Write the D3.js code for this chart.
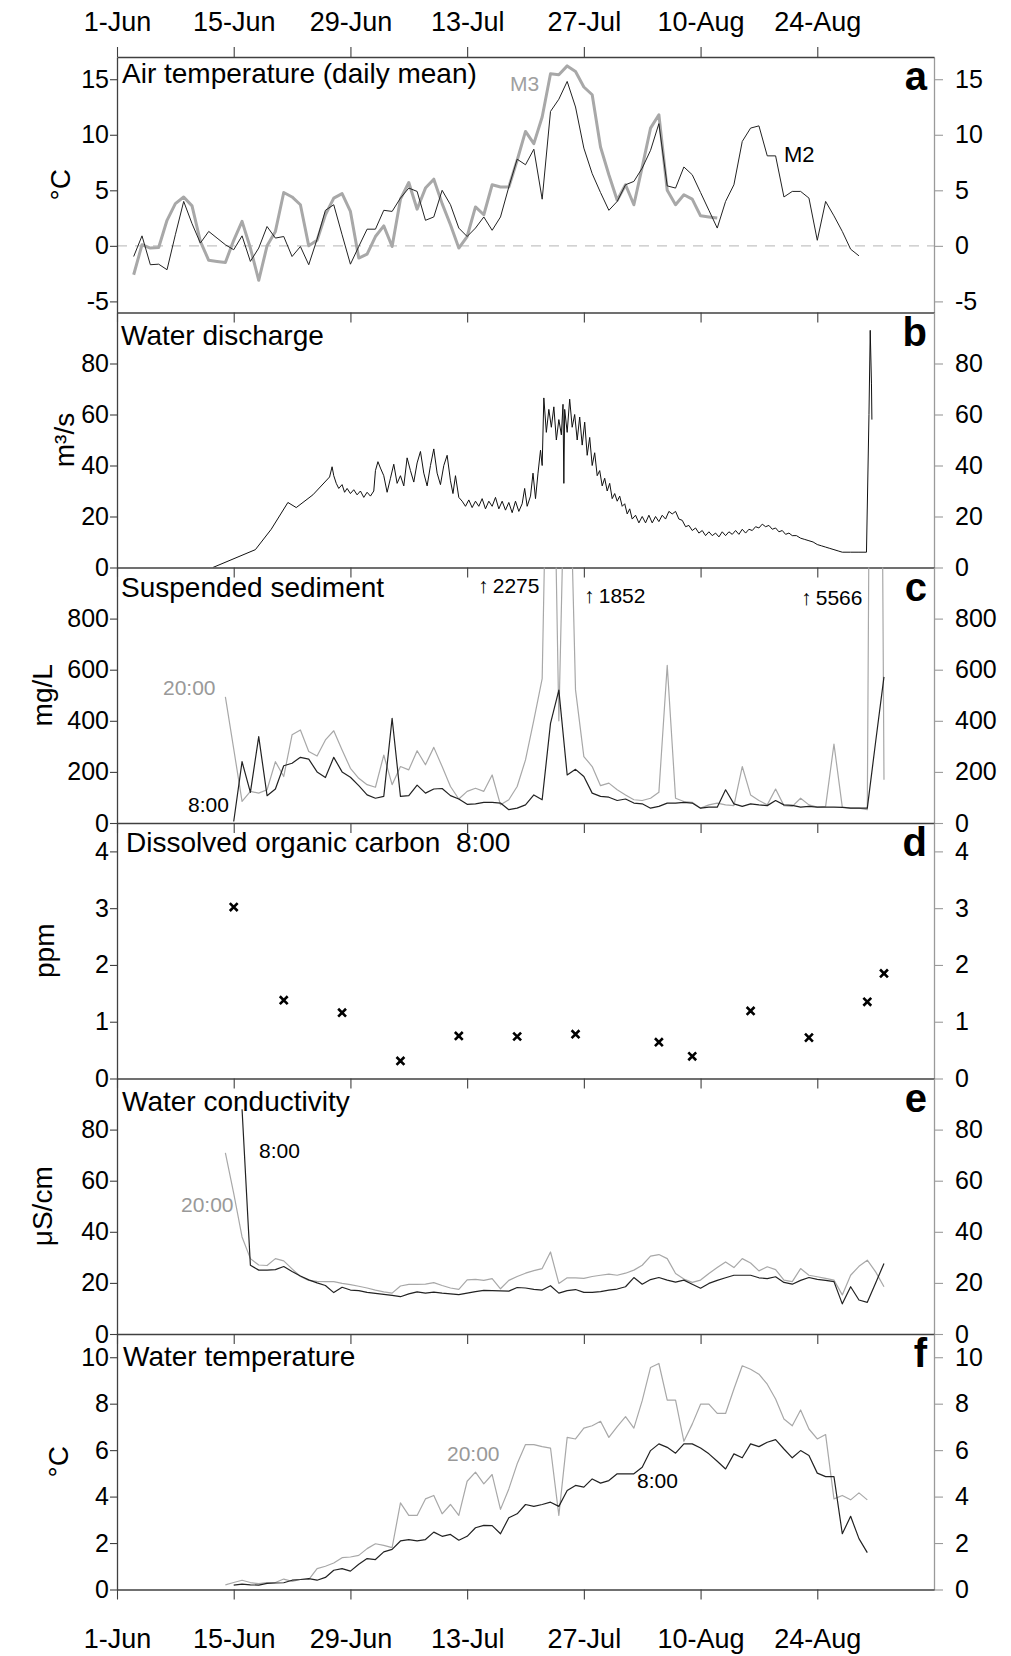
<!DOCTYPE html>
<html>
<head>
<meta charset="utf-8">
<title>Air temperature, discharge, sediment, DOC, conductivity, water temperature</title>
<script src="https://d3js.org/d3.v7.min.js"></script>
<style>
  body { margin: 0; background: #fff; }
  svg { display: block; font-family: "Liberation Sans", Arial, sans-serif; }
</style>
</head>
<body>
<svg id="chart"></svg>
<script>
// ---- data (day 0 = 1 June) ----
var dateTicks = [0, 14, 28, 42, 56, 70, 84];

var airM2Start = 2;
var airM2 = [-0.96, 0.9, -1.7, -1.65, -2.15, 1.0, 4.0, 2.0, 0.25, 1.3, 0.7, 0.1, -0.35, 0.9, -1.4, -0.2,
  1.74, 0.7, 0.84, -0.96, -0.06, -1.7, 0.6, 3.2, 3.7, 1.0, -1.65, -0.06, 1.5, 1.5, 3.2, 3.1, 4.3, 5.2,
  4.9, 2.3, 2.6, 5.0, 3.7, 1.6, 0.84, 1.6, 2.6, 1.4, 2.6, 5.3, 7.8, 7.3, 8.7, 4.2, 12.1, 13.2, 14.8,
  12.5, 8.8, 6.5, 4.8, 3.2, 4.0, 5.5, 5.8, 7.0, 8.6, 11.0, 5.4, 5.2, 7.1, 6.4, 4.8, 3.2, 1.6, 4.0, 5.5,
  9.4, 10.6, 10.8, 8.1, 8.1, 4.4, 4.9, 4.9, 4.3, 0.5, 4.0, 2.7, 1.3, -0.3, -0.9];
var airM3Start = 2;
var airM3 = [-2.6, 0.1, -0.2, -0.15, 2.3, 3.8, 4.4, 3.6, 0.4, -1.3, -1.4, -1.5, 0.5, 2.2, -0.2, -3.1,
  0, 1.3, 4.8, 4.4, 3.7, 0, 0.5, 2.8, 4.3, 4.7, 3.1, -1.1, -0.75, 0.84, 1.8, -0.06, 4.2, 5.7, 3.3, 5.2,
  6.0, 3.8, 1.9, -0.2, 0.84, 3.5, 2.8, 5.5, 5.3, 5.3, 7.7, 10.3, 9.2, 11.6, 15.5, 15.4, 16.2, 15.7,
  14.3, 13.6, 8.9, 6.4, 4.1, 5.5, 3.7, 7.1, 10.6, 11.8, 5.0, 3.7, 4.6, 4.2, 2.7, 2.6, 2.5];

// [day, m3/s]
var discharge = [[11.5,0],[16.6,7],[18.5,15],[20.5,25.5],[21.5,23.5],[23.5,28.5],[25.5,35.5],[25.8,39.5],
  [26.0,36],[26.3,33],[26.6,31],[27.0,32.5],[27.3,29.5],[27.6,31],[28.0,29],[28.4,30.5],[28.8,28.5],
  [29.2,30],[29.6,27.5],[30.0,29.5],[30.4,28],[30.8,30],[31.0,38],[31.3,41.5],[31.6,39],[32.0,36],
  [32.4,29.5],[32.8,35],[33.2,40.5],[33.6,33],[34.0,36],[34.4,32],[34.8,43],[35.2,38],[35.6,33.5],
  [36.0,41],[36.4,45.5],[36.8,37],[37.2,32],[37.6,40],[38.0,46.5],[38.4,37],[38.8,32.5],[39.2,40],
  [39.6,44],[40.0,34],[40.3,29],[40.6,36],[41.0,27.5],[41.4,26],[41.8,24],[42.2,26.5],[42.6,23.5],
  [43.0,26],[43.4,24],[43.8,27],[44.2,23],[44.6,26],[45.0,24],[45.4,27.5],[45.8,23],[46.2,26],
  [46.6,22.5],[47.0,25.5],[47.4,21.5],[47.8,26],[48.2,22],[48.6,25],[48.9,31],[49.2,24],[49.6,28],
  [49.9,37],[50.2,27],[50.5,37],[50.8,46],[51.0,40],[51.2,66.5],[51.5,53],[51.8,62],[52.1,55],
  [52.4,63],[52.7,50],[53.0,58],[53.3,52],[53.5,64],[53.6,33],[53.7,62],[54.0,53],[54.3,66],
  [54.6,55],[54.9,60],[55.2,50],[55.5,59],[55.8,48],[56.1,57],[56.4,44],[56.7,51],[57.0,40],
  [57.3,45],[57.6,36],[57.9,38],[58.2,32],[58.5,35],[58.8,30],[59.1,33],[59.4,27],[59.7,29],
  [60.0,26],[60.3,28],[60.6,24],[60.9,25],[61.2,21],[61.5,23],[61.8,19],[62.2,20.5],[62.6,17.5],
  [63.0,20],[63.4,17.5],[63.8,20.5],[64.2,17.5],[64.6,20],[65.0,18],[65.4,20.5],[65.8,19],[66.2,22],
  [66.6,21],[67.0,22],[67.4,19],[67.8,18.5],[68.2,16],[68.6,16.5],[69.0,14.5],[69.4,15.5],[69.8,13.5],
  [70.2,14.5],[70.6,12.5],[71.0,14],[71.4,12.5],[71.8,13.5],[72.2,12],[72.6,14],[73.0,12.5],[73.4,14],
  [73.8,13],[74.2,14.5],[74.6,13],[75.0,15],[75.4,13.5],[75.8,15],[76.2,14.5],[76.6,16],[77.0,15.5],
  [77.4,17],[77.8,16],[78.2,16.5],[78.6,15],[79.0,15.5],[79.4,14],[79.8,14.5],[80.2,13],[80.6,13.5],
  [81.0,12.5],[81.5,12.5],[82.0,11.5],[82.5,11],[83.0,10.5],[83.5,10],[84.0,9],[84.5,8.5],[85.0,8],
  [85.5,7.5],[86.0,7],[86.5,6.5],[87.0,6],[88.0,6],[89.0,6],[89.9,6],[90.2,60],[90.35,93],[90.5,72],
  [90.55,58]];

var ssc20Start = 13;
var ssc20 = [494, 290, 85, 124, 117, 130, 240, 182, 345, 364, 280, 262, 325, 361, 286, 214, 175, 150,
  140, 266, 150, 221, 208, 283, 228, 296, 221, 143, 94, 124, 136, 124, 188, 71, 91, 143, 247, 403, 565,
  2275, 400, 1852, 521, 260, 221, 146, 156, 130, 110, 91, 88, 97, 120, 617, 97, 84, 81, 58, 71, 78, 71,
  68, 221, 110, 88, 71, 133, 68, 65, 97, 71, 62, 65, 309, 62, 58, 58, 52, 5566, 169];
var ssc8Start = 14;
var ssc8 = [6, 240, 120, 338, 107, 133, 224, 234, 257, 250, 200, 178, 257, 200, 179, 146, 110, 97, 104,
  410, 104, 107, 148, 117, 133, 135, 107, 94, 73, 75, 81, 81, 78, 52, 58, 71, 110, 91, 390, 520, 188,
  210, 182, 117, 104, 101, 88, 94, 78, 75, 58, 65, 78, 78, 81, 78, 58, 62, 62, 130, 75, 65, 75, 71, 68,
  88, 71, 69, 62, 65, 62, 62, 62, 61, 58, 58, 58, 318, 572];
var sscPeaks = ["\u2191\u20092275", "\u2191\u20091852", "\u2191\u20095566"];

var docDays = [14, 20, 27, 34, 41, 48, 55, 65, 69, 76, 83, 90, 92];
var docPpm = [3.02, 1.38, 1.16, 0.31, 0.75, 0.74, 0.78, 0.64, 0.39, 1.19, 0.72, 1.35, 1.85];

var cond20Start = 13;
var cond20 = [70.9, 55, 38, 29.5, 27, 26.8, 29.5, 28.6, 25.5, 22.5, 21, 20.6, 20.5, 20.5, 19.8, 19.3,
  18.7, 18, 17.2, 16.5, 16, 18.8, 19.4, 19.4, 19.5, 20.1, 19, 18, 17.5, 21.2, 21.4, 21, 21.7, 17.7, 21,
  22.5, 23.8, 24.8, 25.6, 32.1, 19.8, 22, 22, 21.8, 22.5, 23, 23.4, 23, 23.8, 25, 26.9, 30.5, 31.1, 29.5,
  23.7, 21.5, 20.2, 21.1, 23.7, 26, 28.2, 26, 29.5, 27.8, 24.7, 26.3, 25.2, 21.1, 20.5, 25.6, 23, 22.4,
  21.8, 21.1, 15.3, 23, 26.5, 28.9, 24.3, 18.5];
var cond8Start = 15;
var cond8 = [88, 26.9, 25, 25, 25.2, 26.4, 24.5, 22.7, 21.2, 20, 19, 16.2, 18.3, 17.2, 17, 16.3, 15.9,
  15.5, 15.1, 14.6, 15.7, 16.5, 16, 16.4, 16, 15.7, 15.4, 16, 16.6, 17.1, 17, 16.9, 16.8, 18.2, 18, 17.5,
  17.2, 18.9, 16, 17, 17.4, 16.3, 16.3, 16.6, 17.2, 17.6, 18.5, 22.1, 19.5, 21.3, 22.1, 21.1, 20.3, 21.1,
  19.5, 17.9, 19.8, 21, 22, 23, 23, 23, 22, 21.7, 22.4, 20.2, 19.5, 21, 22.1, 21.4, 21, 20.5, 11.8, 18.5,
  13.3, 12.4, 20, 27.6];

var wt20Start = 13;
var wt20 = [0.2, 0.3, 0.4, 0.3, 0.25, 0.3, 0.3, 0.45, 0.35, 0.43, 0.43, 0.9, 1.0, 1.14, 1.37, 1.4, 1.47,
  1.76, 1.97, 1.9, 1.8, 3.73, 3.19, 3.19, 3.9, 4.05, 3.26, 3.66, 3.19, 4.66, 5.05, 4.55, 4.95, 3.45, 4.33,
  5.41, 6.24, 6.24, 6.15, 6.09, 3.19, 6.55, 6.48, 6.95, 7.05, 7.24, 6.55, 7.01, 7.44, 6.95, 8.13, 9.56,
  9.73, 8.15, 8.15, 6.38, 7.12, 7.98, 7.98, 7.58, 7.58, 8.63, 9.63, 9.48, 9.27, 8.84, 8.2, 7.34, 7.05,
  7.73, 6.91, 6.48, 6.67, 3.9, 4.05, 3.86, 4.16, 3.86];
var wt8Start = 14;
var wt8 = [0.19, 0.23, 0.2, 0.19, 0.26, 0.28, 0.29, 0.4, 0.43, 0.47, 0.4, 0.52, 0.83, 0.9, 0.79, 1.09,
  1.33, 1.29, 1.62, 1.73, 2.09, 2.15, 2.09, 2.15, 2.47, 2.29, 2.37, 2.12, 2.29, 2.66, 2.76, 2.75, 2.4,
  3.09, 3.26, 3.66, 3.58, 3.66, 3.76, 3.58, 4.26, 4.48, 4.41, 4.76, 4.58, 4.69, 4.98, 4.98, 4.98, 5.26,
  5.98, 6.27, 6.12, 5.87, 6.27, 6.27, 6.09, 5.84, 5.52, 5.19, 5.84, 5.67, 6.27, 6.15, 6.34, 6.45, 6.05,
  5.67, 5.98, 5.77, 5.01, 4.86, 4.86, 2.4, 3.15, 2.19, 1.59];

// ---- layout ----
var width = 1011, height = 1656;
var left = 117, right = 934;
var frameColor = "#404040", rightColor = "#9a9a9a";
var dark = "#222", light = "#a8a8a8";

var start = Date.UTC(2008, 5, 1);
function day(d) { return new Date(start + d * 864e5); }
function series(first, vals) { return vals.map(function(v, i) { return [first + i, v]; }); }

var x = d3.scaleUtc().domain([day(0), day(98)]).range([left, right]);
var plain = function(d) { return String(d); };   // hyphen minus, no trailing ".0"

var panels = [
  { id: "a", top: 57,     bottom: 312.5,  domain: [-6, 17],  ticks: [-5, 0, 5, 10, 15],
    title: "Air temperature (daily mean)", tx: 122, ty: 26, unit: "\u00b0C", ux: 60 },
  { id: "b", top: 312.5,  bottom: 567.5,  domain: [0, 100],  ticks: [0, 20, 40, 60, 80],
    title: "Water discharge", tx: 121, ty: 32, unit: "m\u00b3/s", ux: 64 },
  { id: "c", top: 567.5,  bottom: 823,    domain: [0, 1000], ticks: [0, 200, 400, 600, 800],
    title: "Suspended sediment", tx: 121, ty: 29, unit: "mg/L", ux: 42 },
  { id: "d", top: 823,    bottom: 1078.5, domain: [0, 4.5],  ticks: [0, 1, 2, 3, 4],
    title: "Dissolved organic carbon\u00a0\u00a08:00", tx: 126, ty: 29, unit: "ppm", ux: 44 },
  { id: "e", top: 1078.5, bottom: 1334,   domain: [0, 100],  ticks: [0, 20, 40, 60, 80],
    title: "Water conductivity", tx: 122, ty: 32, unit: "\u03bcS/cm", ux: 42 },
  { id: "f", top: 1334,   bottom: 1589.5, domain: [0, 11],   ticks: [0, 2, 4, 6, 8, 10],
    title: "Water temperature", tx: 123, ty: 32, unit: "\u00b0C", ux: 58 }
];

var svg = d3.select("#chart").attr("width", width).attr("height", height);
var defs = svg.append("defs");

panels.forEach(function(p) {
  p.y = d3.scaleLinear().domain(p.domain).range([p.bottom, p.top]);
  defs.append("clipPath").attr("id", "clip-" + p.id)
    .append("rect").attr("x", left).attr("y", p.top)
    .attr("width", right - left).attr("height", p.bottom - p.top);
  p.g = svg.append("g").attr("class", "panel");
  p.plot = p.g.append("g").attr("clip-path", "url(#clip-" + p.id + ")");
});

function drawLine(p, pts, color, w) {
  var line = d3.line()
    .x(function(d) { return x(day(d[0])); })
    .y(function(d) { return p.y(d[1]); });
  p.plot.append("path").datum(pts)
    .attr("d", line).attr("fill", "none")
    .attr("stroke", color).attr("stroke-width", w)
    .attr("stroke-linejoin", "round");
}

function label(sel, txt, px, py, size, color, anchor, weight) {
  sel.append("text").attr("x", px).attr("y", py)
    .attr("font-size", size).attr("fill", color || "#000")
    .attr("text-anchor", anchor || "start")
    .attr("font-weight", weight || "normal")
    .style("white-space", "pre")
    .text(txt);
}

// a: air temperature
var pa = panels[0];
pa.plot.append("line").attr("x1", left).attr("x2", right)
  .attr("y1", pa.y(0)).attr("y2", pa.y(0))
  .attr("stroke", "#c4c4c4").attr("stroke-width", 1.2).attr("stroke-dasharray", "10,8");
drawLine(pa, series(airM3Start, airM3), light, 3);
drawLine(pa, series(airM2Start, airM2), dark, 1);
label(pa.g, "M3", 510, 91, 21, "#a0a0a0");
label(pa.g, "M2", 784, 162, 22, "#000");

// b: discharge
drawLine(panels[1], discharge, "#111", 1);

// c: suspended sediment
var pc = panels[2];
drawLine(pc, series(ssc20Start, ssc20), light, 1.2);
drawLine(pc, series(ssc8Start, ssc8), dark, 1.2);
label(pc.g, sscPeaks[0], 478, 593, 21, "#000");
label(pc.g, sscPeaks[1], 584, 603, 21, "#000");
label(pc.g, sscPeaks[2], 801, 605, 21, "#000");
label(pc.g, "20:00", 163, 695, 21, "#999");
label(pc.g, "8:00", 188, 812, 21, "#000");

// d: DOC
var pd = panels[3];
pd.plot.selectAll("path.mark").data(docDays).enter().append("path")
  .attr("class", "mark")
  .attr("transform", function(d, i) { return "translate(" + x(day(d)) + "," + pd.y(docPpm[i]) + ")"; })
  .attr("d", d3.symbol(d3.symbolX, 42))
  .attr("fill", "none").attr("stroke", "#000").attr("stroke-width", 2.6);

// e: conductivity
var pe = panels[4];
drawLine(pe, series(cond20Start, cond20), light, 1.2);
drawLine(pe, series(cond8Start, cond8), dark, 1.2);
label(pe.g, "8:00", 259, 1158, 21, "#000");
label(pe.g, "20:00", 181, 1212, 21, "#999");

// f: water temperature
var pf = panels[5];
drawLine(pf, series(wt20Start, wt20), light, 1.2);
drawLine(pf, series(wt8Start, wt8), dark, 1.2);
label(pf.g, "20:00", 447, 1461, 21, "#999");
label(pf.g, "8:00", 637, 1488, 21, "#000");

// axes, titles
function styleAxis(g, color, size) {
  g.attr("font-family", null).attr("font-size", size);
  g.select(".domain").attr("stroke", color).attr("stroke-width", 1.3);
  g.selectAll(".tick line").attr("stroke", color).attr("stroke-width", 1.1);
  g.selectAll(".tick text").attr("fill", "#000");
}

panels.forEach(function(p, i) {
  var gl = p.g.append("g").attr("transform", "translate(" + left + ",0)")
    .call(d3.axisLeft(p.y).tickValues(p.ticks).tickFormat(plain)
      .tickSize(7).tickPadding(1).tickSizeOuter(0));
  styleAxis(gl, frameColor, 25);

  var gr = p.g.append("g").attr("transform", "translate(" + right + ",0)")
    .call(d3.axisRight(p.y).tickValues(p.ticks).tickFormat(plain)
      .tickSize(9).tickPadding(12).tickSizeOuter(0));
  styleAxis(gr, rightColor, 25);

  var last = i === panels.length - 1;
  var gb = p.g.append("g").attr("transform", "translate(0," + p.bottom + ")")
    .call(d3.axisBottom(x).tickValues(dateTicks.map(day)).tickSize(10).tickSizeOuter(0)
      .tickPadding(29).tickFormat(last ? d3.utcFormat("%-d-%b") : ""));
  styleAxis(gb, frameColor, 27);

  if (i === 0) {
    var gt = p.g.append("g").attr("transform", "translate(0," + p.top + ")")
      .call(d3.axisTop(x).tickValues(dateTicks.map(day)).tickSize(10).tickSizeOuter(0)
        .tickPadding(16).tickFormat(d3.utcFormat("%-d-%b")));
    styleAxis(gt, frameColor, 27);
  }

  label(p.g, p.title, p.tx, p.top + p.ty, 28, "#000");
  label(p.g, p.id, 927, p.top + 33, 40, "#000", "end", "bold");

  p.g.append("text")
    .attr("transform", "translate(" + p.ux + "," + ((p.top + p.bottom) / 2) + ") rotate(-90)")
    .attr("text-anchor", "middle").attr("dominant-baseline", "central")
    .attr("font-size", 28).text(p.unit);
});
</script>
</body>
</html>
